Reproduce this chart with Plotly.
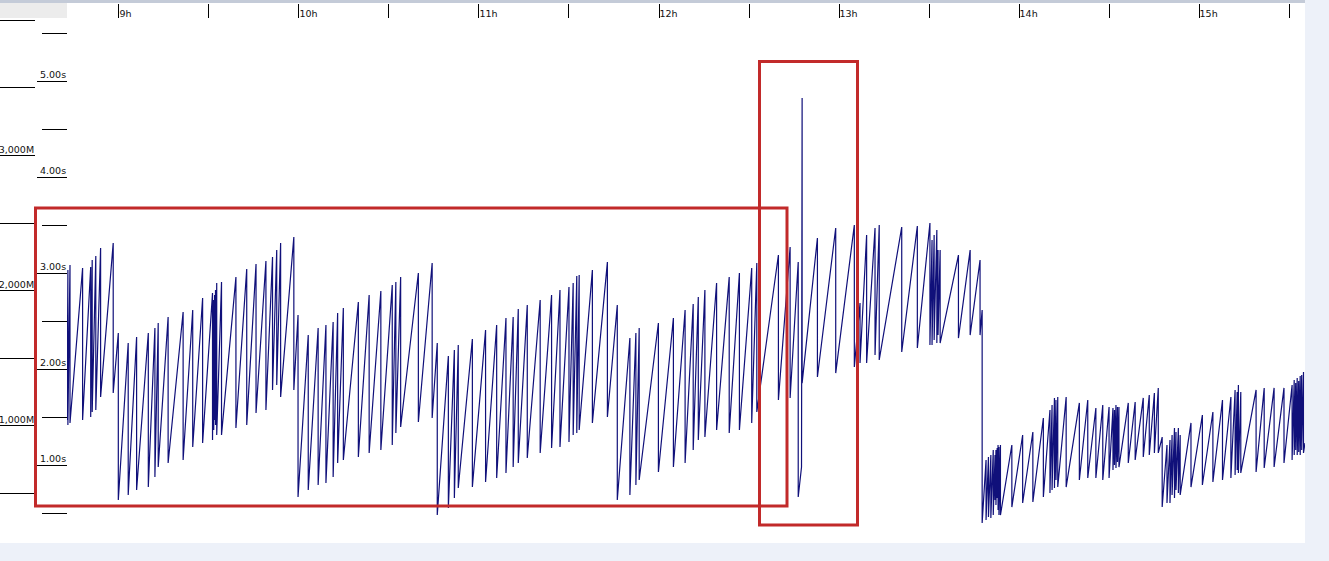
import plotly.graph_objects as go

W, H = 1329, 561

# ---- data ----
# time in minutes since midnight, heap in MB
start_time, start_heap = 522.7, 1043
end_time, end_heap = 935.3, 873

gc_time = [
    523.0, 523.7, 527.9, 530.6, 531.1, 532.3, 533.9, 538.1, 539.8,
    543.1, 545.9, 549.8, 552.0, 553.1, 556.4, 561.4, 564.6, 567.9, 571.2,
    571.6, 571.9, 572.2, 572.6, 574.2, 579.0, 582.6, 585.7, 589.0, 591.2,
    592.6, 593.9, 598.3, 599.7,
    603.1, 606.4, 609.0, 611.4, 612.9, 614.8, 619.8, 623.4, 627.3, 631.1,
    632.3, 633.9, 639.8, 644.4, 646.1,
    649.8, 651.8, 653.1, 657.8, 662.2, 665.9, 669.0, 671.4, 673.1, 676.1,
    680.4, 684.2, 687.0, 690.0, 691.4, 692.6, 693.4, 697.8, 702.8, 706.1,
    710.3, 712.3, 713.4, 719.8, 724.8, 728.7, 731.4, 733.1, 735.3, 739.2,
    743.4, 746.8, 750.9, 752.6, 759.8, 763.7, 766.4, 767.5, 767.7,
    772.8, 778.9, 785.1, 787.0, 789.2, 792.0, 793.4, 800.9, 806.1, 810.3,
    811.0, 811.7, 812.6, 813.0, 813.7, 819.8, 823.7, 827.0, 827.7,
    829.0, 829.8, 830.6, 831.4, 832.0, 832.3, 832.7, 833.0, 833.3, 833.8,
    837.6, 841.2, 844.6, 848.1, 850.3, 851.0, 851.8, 852.3, 852.9, 855.7,
    860.1, 862.9, 865.6, 867.9, 870.0, 871.3, 871.8, 872.3, 872.8, 873.3,
    876.4, 878.7, 881.4, 883.4, 885.1, 886.4, 887.7,
    889.3, 890.3, 891.0, 891.8, 892.3, 893.1, 893.7, 897.3, 901.1, 904.6,
    907.8, 910.6, 912.0, 912.7, 913.1, 913.9, 919.0, 921.7, 925.0, 928.3,
    931.0, 931.7, 932.2, 932.7, 933.2, 933.7, 934.2, 934.8,
]
heap_before = [
    2152, 2189, 2167, 2174, 2226, 2256, 2315, 2352, 1686,
    1612, 1657, 1686, 1723, 1760, 1805, 1842, 1856, 1945, 1982,
    1930, 1967, 2004, 2056, 2063, 2100, 2160, 2197, 2219, 2248,
    2300, 2352, 2396, 1819,
    1671, 1723, 1745, 1768, 1834, 1871, 1916, 1967, 1997, 2041,
    2063, 2100, 2130, 2204, 1612,
    1516, 1560, 1597, 1642, 1708, 1745, 1797, 1805, 1864, 1893,
    1930, 1967, 2004, 2027, 2056, 2108, 2115, 2152, 2211, 1893,
    1649, 1686, 1723, 1760, 1797, 1856, 1901, 1953, 2004, 2056,
    2100, 2130, 2167, 2204, 2263, 2322, 2211, 695, 3424,
    2389, 2463, 2485, 1908, 2411, 2463, 2485, 2470, 2478, 2500,
    2374, 2411, 2448, 2300, 2300, 2263, 2300, 2226, 1856,
    747, 769, 784, 821, 784, 821, 836, 858, 843, 858,
    858, 932, 954, 1058, 1117, 1154, 1206, 1191, 1213, 1213,
    1169, 1191, 1132, 1154, 1139, 1132, 1117, 1154, 1139, 1139,
    1169, 1176, 1206, 1228, 1243, 1280, 917,
    858, 895, 932, 984, 954, 984, 932, 1021, 1080, 1102,
    1191, 1213, 1265, 1250, 1302, 1250, 1265, 1280, 1280, 1280,
    1302, 1339, 1316, 1353, 1331, 1368, 1376, 1398,
]
heap_after = [
    1006, 1021, 1043, 1065, 1102, 1117, 1213, 1243, 451,
    488, 525, 547, 621, 695, 725, 747, 843, 873, 895,
    969, 1043, 1006, 932, 932, 984, 1006, 1095, 1117, 1265,
    1302, 1213, 1265, 473,
    525, 562, 577, 621, 725, 747, 769, 799, 821, 858,
    947, 991, 1028, 1058, 340,
    392, 466, 540, 547, 584, 614, 651, 695, 725, 762,
    799, 836, 843, 880, 932, 947, 969, 1021, 1065, 451,
    488, 562, 599, 658, 695, 725, 821, 895, 917, 969,
    947, 969, 1021, 1102, 1191, 1206, 473, 695, 1316,
    1361, 1390, 1435, 1464, 1464, 1524, 1487, 1546, 1575, 1597,
    1597, 1634, 1612, 1671, 1612, 1649, 1671, 1671, 281,
    303, 325, 318, 340, 451, 414, 466, 377, 340, 340,
    399, 429, 436, 473, 503, 525, 540, 599, 547, 547,
    599, 614, 614, 599, 614, 673, 710, 688, 732, 695,
    725, 747, 769, 784, 799, 799, 399,
    429, 429, 488, 466, 525, 503, 488, 547, 562, 584,
    599, 614, 636, 673, 651, 651, 658, 688, 695, 725,
    747, 784, 821, 784, 806, 784, 821, 799,
]

hour_vals = [540, 600, 660, 720, 780, 840, 900]
hour_text = ["9h", "10h", "11h", "12h", "13h", "14h", "15h"]
half_hour_vals = [570, 630, 690, 750, 810, 870, 930]

mem_vals = [500, 1000, 1500, 2000, 2500, 3000, 3500, 4000]
mem_text = ["", "1,000M", "", "2,000M", "", "3,000M", "", ""]

sec_vals = [1, 2, 3, 4, 5]
sec_text = ["1.00s", "2.00s", "3.00s", "4.00s", "5.00s"]
half_sec_vals = [0.5, 1.5, 2.5, 3.5, 4.5, 5.5]

# ---- build polyline ----
xs, ys = [start_time], [start_heap]
for t, b, a in zip(gc_time, heap_before, heap_after):
    xs += [t, t]
    ys += [b, a]
xs.append(end_time)
ys.append(end_heap)

# ---- pixel layout helpers ----
def px(x):
    return x / W

def py(y):
    return 1 - y / H

plot_l, plot_r, plot_t, plot_b = 67, 1305, 4, 543
mb_per_px = 1 / 0.1352
sec_per_px = 1 / 96.0

FONT = dict(family="DejaVu Sans", size=9.5, color="#111111")

fig = go.Figure()
fig.add_trace(go.Scatter(
    x=xs, y=ys, mode="lines",
    line=dict(color="#10107a", width=1.2),
    hoverinfo="skip", showlegend=False,
))
fig.add_trace(go.Scatter(x=[None], y=[None], yaxis="y2", showlegend=False, hoverinfo="skip"))

fig.update_layout(
    width=W, height=H,
    margin=dict(l=0, r=0, t=0, b=0),
    paper_bgcolor="#edf1f9",
    plot_bgcolor="white",
    font=FONT,
    showlegend=False,
    xaxis=dict(
        domain=[px(plot_l), px(plot_r)],
        range=[start_time, end_time],
        side="top",
        showgrid=False, zeroline=False, showline=False,
        ticks="inside", ticklen=14, tickwidth=1, tickcolor="black",
        tickmode="array", tickvals=hour_vals, ticktext=hour_text,
        ticklabelposition="inside right",
        tickfont=FONT,
        minor=dict(ticks="inside", ticklen=14, tickwidth=1, tickcolor="black",
                   tickmode="array", tickvals=half_hour_vals, showgrid=False),
    ),
    yaxis=dict(
        domain=[py(plot_b), py(plot_t)],
        range=[(H - plot_b) * mb_per_px, (H - plot_t) * mb_per_px],
        anchor="free", position=px(35), side="left",
        showgrid=False, zeroline=False, showline=False,
        ticks="outside", ticklen=35, tickwidth=1, tickcolor="black",
        tickmode="array", tickvals=mem_vals, ticktext=mem_text,
        ticklabelstandoff=-36, ticklabelshift=-6,
        tickfont=FONT,
    ),
    yaxis2=dict(
        domain=[py(plot_b), py(plot_t)],
        range=[(H - plot_b) * sec_per_px, (H - plot_t) * sec_per_px],
        overlaying="y", anchor="free", position=px(plot_l), side="left",
        showgrid=False, zeroline=False, showline=False,
        ticks="outside", ticklen=30, tickwidth=1, tickcolor="black",
        tickmode="array", tickvals=sec_vals, ticktext=sec_text,
        ticklabelstandoff=-31, ticklabelshift=-6,
        tickfont=FONT,
        minor=dict(ticks="outside", ticklen=25, tickwidth=1, tickcolor="black",
                   tickmode="array", tickvals=half_sec_vals, showgrid=False),
    ),
    shapes=[
        # white canvas
        dict(type="rect", xref="paper", yref="paper", layer="below",
             x0=0, x1=px(plot_r), y0=py(plot_b), y1=1,
             fillcolor="white", line=dict(width=0)),
        # grey corner box
        dict(type="rect", xref="paper", yref="paper", layer="below",
             x0=0, x1=px(plot_l), y0=py(18), y1=1,
             fillcolor="#ececec", line=dict(width=0)),
        # top border
        dict(type="rect", xref="paper", yref="paper", layer="above",
             x0=0, x1=px(plot_r), y0=py(3), y1=1,
             fillcolor="#c4cbd8", line=dict(width=0)),
        # red highlight boxes
        dict(type="rect", xref="paper", yref="paper", layer="above",
             x0=px(35.5), x1=px(787), y0=py(506), y1=py(208),
             line=dict(color="#c22a2a", width=3), fillcolor="rgba(0,0,0,0)"),
        dict(type="rect", xref="paper", yref="paper", layer="above",
             x0=px(759.5), x1=px(857.5), y0=py(525), y1=py(61.5),
             line=dict(color="#c22a2a", width=3), fillcolor="rgba(0,0,0,0)"),
    ],
)

fig.write_html(
    "out.html",
    config={"displayModeBar": False, "staticPlot": True},
    post_script="document.body.style.margin='0';document.body.style.overflow='hidden';",
)
